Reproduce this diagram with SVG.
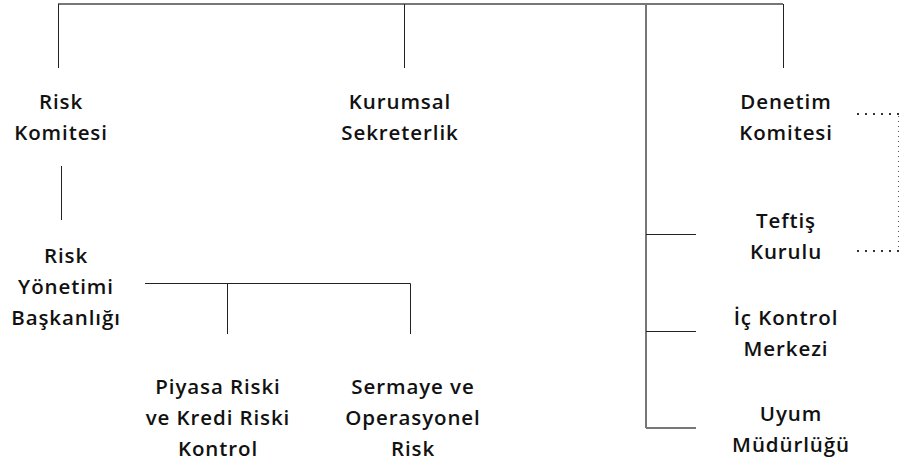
<svg xmlns="http://www.w3.org/2000/svg" width="900" height="461" viewBox="0 0 900 461">
<style>
.t{font-family:"Open Sans","Liberation Sans",sans-serif;font-weight:600;font-size:20.5px;fill:#111;text-anchor:middle;letter-spacing:0.9px}
.l{stroke:#222;stroke-width:1;fill:none}
.g{stroke:#777;stroke-width:2;fill:none}
.d{stroke:#333;stroke-width:2;stroke-dasharray:2 6;fill:none}
.dv{stroke:#555;stroke-width:1;stroke-dasharray:1 4;fill:none}
</style>
<rect width="900" height="461" fill="#fff"/>
<g id="connectors">
<line class="g" x1="58" y1="4" x2="783" y2="4"/>
<line class="l" x1="58.5" y1="4" x2="58.5" y2="68"/>
<line class="l" x1="404.5" y1="4" x2="404.5" y2="68"/>
<line class="l" x1="783.5" y1="4" x2="783.5" y2="68"/>
<line class="g" x1="646" y1="4" x2="646" y2="428"/>
<line class="l" x1="646" y1="234.5" x2="696" y2="234.5"/>
<line class="l" x1="646" y1="331.5" x2="696" y2="331.5"/>
<line class="g" x1="646" y1="428" x2="696" y2="428"/>
<line class="l" x1="61.5" y1="166" x2="61.5" y2="220"/>
<line class="l" x1="145" y1="283.5" x2="410.5" y2="283.5"/>
<line class="l" x1="227.5" y1="283.5" x2="227.5" y2="334"/>
<line class="l" x1="410.5" y1="283.5" x2="410.5" y2="334"/>
<line class="d" x1="857" y1="114" x2="899" y2="114"/>
<line class="d" x1="857" y1="251" x2="899" y2="251"/>
<line class="dv" x1="898.5" y1="116" x2="898.5" y2="250"/>
</g>
<g id="risk-komitesi"><text class="t" x="61" y="109">Risk</text><text class="t" x="61" y="140">Komitesi</text></g>
<g id="kurumsal-sekreterlik"><text class="t" x="400" y="109">Kurumsal</text><text class="t" x="400" y="140">Sekreterlik</text></g>
<g id="denetim-komitesi"><text class="t" x="786" y="109">Denetim</text><text class="t" x="786" y="140">Komitesi</text></g>
<g id="risk-yonetimi"><text class="t" x="66" y="263">Risk</text><text class="t" x="66" y="294">Yönetimi</text><text class="t" x="66" y="325">Başkanlığı</text></g>
<g id="piyasa-riski"><text class="t" x="218" y="394">Piyasa Riski</text><text class="t" x="218" y="425">ve Kredi Riski</text><text class="t" x="218" y="456">Kontrol</text></g>
<g id="sermaye"><text class="t" x="413" y="394">Sermaye ve</text><text class="t" x="413" y="425">Operasyonel</text><text class="t" x="413" y="456">Risk</text></g>
<g id="teftis-kurulu"><text class="t" x="786" y="228">Teftiş</text><text class="t" x="786" y="259">Kurulu</text></g>
<g id="ic-kontrol"><text class="t" x="786" y="325">İç Kontrol</text><text class="t" x="786" y="356">Merkezi</text></g>
<g id="uyum"><text class="t" x="791" y="421">Uyum</text><text class="t" x="791" y="452">Müdürlüğü</text></g>
</svg>
